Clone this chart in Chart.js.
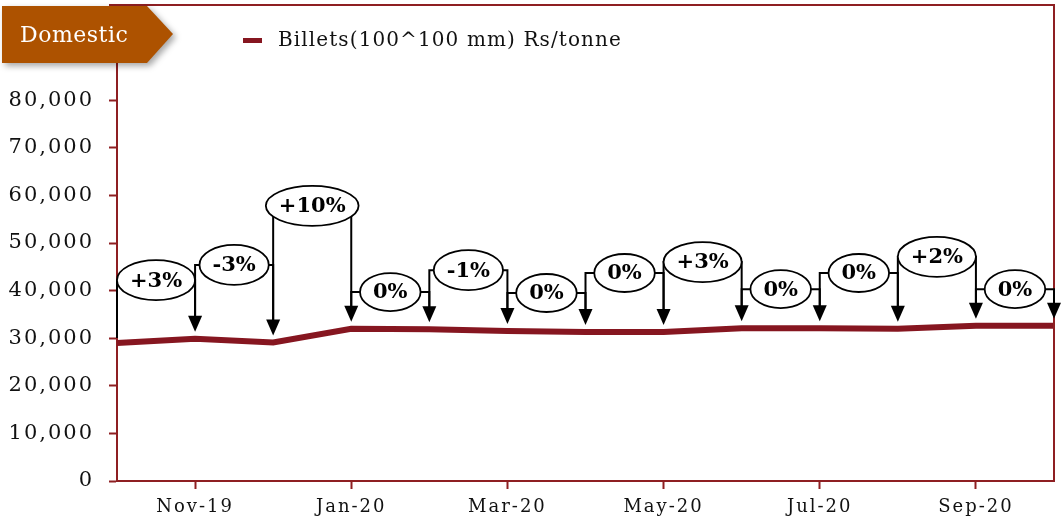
<!DOCTYPE html>
<html><head><meta charset="utf-8">
<script src="https://cdn.jsdelivr.net/npm/chart.js@4/dist/chart.umd.min.js"></script>
<style>html,body{margin:0;padding:0;background:#fff;overflow:hidden}</style>
</head><body>
<canvas id="c" width="1061" height="529"></canvas>
<script>
// ---- data ----
const months = ['Oct-19','Nov-19','Dec-19','Jan-20','Feb-20','Mar-20','Apr-20','May-20','Jun-20','Jul-20','Aug-20','Sep-20','Oct-20'];
const billets = [29000, 29900, 29100, 32000, 31900, 31500, 31300, 31300, 32100, 32100, 32000, 32600, 32600];
const seriesName = 'Billets(100^100 mm) Rs/tonne';
const changeLabels = ['+3%','-3%','+10%','0%','-1%','0%','0%','+3%','0%','0%','+2%','0%'];
const calloutLevels = [42200, 45400, 57800, 39700, 44300, 39500, 43700, 46000, 40300, 43700, 47100, 40300];
const tagText = 'Domestic';

const FRAME = '#8E1F22';
const LINE = '#861620';
const TAG = '#AD5200';

const overlay = {
  id: 'overlay',
  beforeDraw(chart) { chart.ctx.letterSpacing = '2px'; },
  afterDraw(chart) {
    const {ctx, chartArea: a, scales: {x, y}} = chart;
    ctx.save();
    ctx.letterSpacing = '0px';
    // top & right frame
    ctx.strokeStyle = FRAME; ctx.lineWidth = 2;
    ctx.beginPath(); ctx.moveTo(a.left - 8, a.top); ctx.lineTo(a.right, a.top); ctx.lineTo(a.right, a.bottom); ctx.stroke();

    // callouts
    ctx.font = 'bold 21px "DejaVu Serif"';
    for (let i = 0; i < changeLabels.length; i++) {
      const x0 = x.getPixelForValue(i), x1 = x.getPixelForValue(i + 1);
      const yc = y.getPixelForValue(calloutLevels[i]);
      const p0 = y.getPixelForValue(billets[i]), p1 = y.getPixelForValue(billets[i + 1]);
      const tip = p1 - 7;
      ctx.strokeStyle = '#000'; ctx.lineWidth = 2;
      ctx.beginPath();
      ctx.moveTo(x0, i === 0 ? p0 - 5 : p0 - 20); ctx.lineTo(x0, yc);
      ctx.lineTo(x1, yc); ctx.lineTo(x1, tip - 12);
      ctx.stroke();
      ctx.fillStyle = '#000';
      ctx.beginPath(); ctx.moveTo(x1 - 7, tip - 16); ctx.lineTo(x1 + 7, tip - 16); ctx.lineTo(x1, tip); ctx.closePath(); ctx.fill();
      const tw = ctx.measureText(changeLabels[i]).width;
      const ew = tw + 26, eh = (changeLabels[i].length > 2 ? 40 : 38);
      const cx = (x0 + x1) / 2;
      ctx.beginPath(); ctx.ellipse(cx, yc, ew / 2, eh / 2, 0, 0, Math.PI * 2);
      ctx.fillStyle = '#fff'; ctx.fill(); ctx.lineWidth = 1.8; ctx.stroke();
      ctx.fillStyle = '#000'; ctx.textAlign = 'center'; ctx.textBaseline = 'middle';
      ctx.fillText(changeLabels[i], cx, yc + 1);
    }

    // legend
    ctx.fillStyle = LINE; ctx.fillRect(243, 38, 19, 5);
    ctx.letterSpacing = '1.1px';
    ctx.font = '20px "DejaVu Serif"'; ctx.fillStyle = '#111'; ctx.textAlign = 'left'; ctx.textBaseline = 'middle';
    ctx.fillText(chart.data.datasets[0].label, 278, 41);

    // tag
    ctx.save();
    ctx.shadowColor = 'rgba(0,0,0,0.35)'; ctx.shadowBlur = 6; ctx.shadowOffsetX = 3; ctx.shadowOffsetY = 3;
    ctx.fillStyle = TAG;
    ctx.beginPath(); ctx.moveTo(2, 6); ctx.lineTo(147, 6); ctx.lineTo(173, 34); ctx.lineTo(147, 63); ctx.lineTo(2, 63); ctx.closePath(); ctx.fill();
    ctx.restore();
    ctx.letterSpacing = '0.5px';
    ctx.font = '22px "DejaVu Serif"'; ctx.fillStyle = '#fff'; ctx.textAlign = 'left'; ctx.textBaseline = 'middle';
    ctx.fillText(tagText, 20, 36);
    ctx.restore();
  }
};

new Chart(document.getElementById('c'), {
  type: 'line',
  data: {
    labels: months,
    datasets: [{label: seriesName, data: billets, borderColor: LINE, borderWidth: 6, pointRadius: 0, tension: 0, fill: false}]
  },
  options: {
    responsive: false, animation: false, devicePixelRatio: 1,
    layout: {padding: {top: 5, right: 7, left: 0, bottom: 0}},
    plugins: {legend: {display: false}, tooltip: {enabled: false}},
    scales: {
      x: {
        offset: false,
        grid: {drawOnChartArea: false, tickLength: 8, tickWidth: 2, tickColor: c => (c.index % 2 === 1 ? FRAME : 'rgba(0,0,0,0)')},
        border: {color: FRAME, width: 2},
        ticks: {autoSkip: false, maxRotation: 0, padding: 8, color: '#111', font: {family: 'DejaVu Serif', size: 18},
          callback: (v, i) => (i % 2 === 1 ? months[i] : '')},
        afterFit: s => { s.height = 48; s.paddingLeft = 0; s.paddingRight = 0; }
      },
      y: {
        min: 0, max: 100000,
        grid: {drawOnChartArea: false, tickLength: 8, tickWidth: 2, tickColor: FRAME},
        border: {color: FRAME, width: 2},
        ticks: {stepSize: 10000, padding: 15, color: '#111', font: {family: 'DejaVu Serif', size: 21},
          callback: v => (v === 100000 ? '' : v.toLocaleString('en-US'))},
        afterFit: s => { s.width = 117; s.paddingTop = 0; s.paddingBottom = 0; }
      }
    }
  },
  plugins: [overlay]
});
</script>
</body></html>
